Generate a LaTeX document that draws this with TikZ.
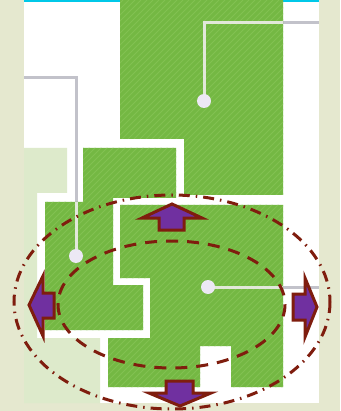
\documentclass[tikz,border=0pt]{standalone}
\usetikzlibrary{calc}
\definecolor{bgbeige}{HTML}{E5E8CF}
\definecolor{topcyan}{HTML}{00C8E8}
\definecolor{palegreen}{HTML}{DDEACB}
\definecolor{leafgreen}{HTML}{74B843}
\definecolor{stripegreen}{HTML}{82C152}
\definecolor{linegray}{HTML}{C2C2CA}
\definecolor{linelight}{HTML}{E2E8DA}
\definecolor{dotfill}{HTML}{ECE8F4}
\definecolor{darkred}{HTML}{7F1D0E}
\definecolor{arrowpurple}{HTML}{7030A0}
\tikzset{
  grayline/.style={draw=linegray, line width=3pt},
  lightline/.style={draw=linelight, line width=3pt},
  marker/.style={fill=dotfill},
  innerring/.style={draw=darkred, line width=3pt, dash pattern=on 12pt off 9pt},
  outerring/.style={draw=darkred, line width=3pt, dash pattern=on 11pt off 6pt on 1.5pt off 6pt},
  bigarrow/.style={fill=arrowpurple, draw=darkred, line width=3pt, line join=miter, miter limit=6},
  stripe/.style={draw=stripegreen, line width=1pt}
}
\begin{document}
\begin{tikzpicture}[x=1pt,y=-1pt]
\useasboundingbox (0,0) rectangle (340,411);
% background
\fill[bgbeige] (0,0) rectangle (340,411);
\fill[white] (24,1) rectangle (319,403);
\fill[topcyan] (24,0) rectangle (319,1.6);
% pale green area
\fill[palegreen] (24,148) -- (67,148) -- (67,193) -- (37,193) -- (37,338) -- (100,338) -- (100,403) -- (24,403) -- cycle;
% gray lines (outside parts)
\draw[grayline] (24,78) -- (76,78) -- (76,210);
\draw[grayline] (275,23) -- (319,23);
\draw[grayline] (275,287) -- (319,287);
% green shapes with stripes
\def\greenshapes{
  (120,0) -- (283,0) -- (283,195) -- (184,195) -- (184,139) -- (120,139) -- cycle
  (83,148) -- (176,148) -- (176,198) -- (113,198) -- (113,285) -- (143,285) -- (143,330) -- (45,330) -- (45,202) -- (83,202) -- cycle
  (120,205) -- (283,205) -- (283,387) -- (231,387) -- (231,346) -- (200,346) -- (200,387) -- (108,387) -- (108,338) -- (150,338) -- (150,278) -- (120,278) -- cycle
}
\fill[leafgreen] \greenshapes;
\begin{scope}
  \clip \greenshapes;
  \foreach \i in {-420,-414,...,340} {
    \draw[stripe] (\i,411) -- ++(411,-411);
  }
\end{scope}
% light lines inside green
\draw[lightline] (76,202) -- (76,256);
\draw[lightline] (204,101) -- (204,23) -- (283,23);
\draw[lightline] (208,287) -- (283,287);
% markers
\fill[marker] (76,256) circle (7);
\fill[marker] (204,101) circle (7);
\fill[marker] (208,287) circle (7);
% rings
\draw[outerring] (172,302) ellipse [x radius=158, y radius=107];
\draw[innerring] (171.5,304.5) ellipse [x radius=113.5, y radius=63.5];
% arrows
\draw[bigarrow] (172,204) -- (202,218) -- (184,218) -- (184,230) -- (159,230) -- (159,218) -- (142,218) -- cycle;
\draw[bigarrow] (180,406) -- (211,393) -- (193,393) -- (193,381) -- (166,381) -- (166,393) -- (149,393) -- cycle;
\draw[bigarrow] (29,305) -- (43,276) -- (43,293) -- (54,293) -- (54,318) -- (43,318) -- (43,336) -- cycle;
\draw[bigarrow] (317,307) -- (305,278) -- (305,294) -- (293,294) -- (293,320) -- (305,320) -- (305,337) -- cycle;
\end{tikzpicture}
\end{document}
